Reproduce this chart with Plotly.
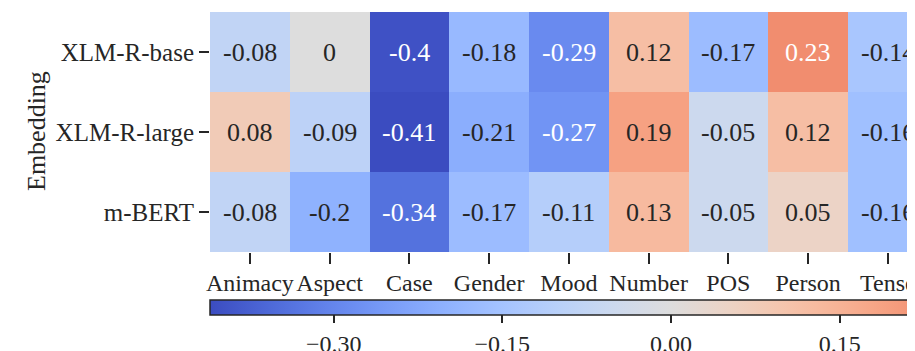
import plotly.graph_objects as go

embeddings = ["XLM-R-base", "XLM-R-large", "m-BERT"]
features = ["Animacy", "Aspect", "Case", "Gender", "Mood", "Number", "POS", "Person", "Tense"]
xlmr_base = [-0.08, 0, -0.4, -0.18, -0.29, 0.12, -0.17, 0.23, -0.14]
xlmr_large = [0.08, -0.09, -0.41, -0.21, -0.27, 0.19, -0.05, 0.12, -0.16]
mbert = [-0.08, -0.2, -0.34, -0.17, -0.11, 0.13, -0.05, 0.05, -0.16]
cbar_ticks = [-0.30, -0.15, 0.00, 0.15]

z = [xlmr_base, xlmr_large, mbert]

# Moreland coolwarm table
cw = [(59,76,192),(68,90,204),(77,104,215),(87,117,225),(98,130,234),(108,142,241),
      (119,154,247),(130,165,251),(141,176,254),(152,185,255),(163,194,255),(174,201,253),
      (184,208,249),(194,213,244),(204,217,238),(213,219,230),(221,221,221),(229,216,209),
      (236,211,197),(241,204,184),(245,196,172),(247,187,160),(247,177,148),(247,166,135),
      (244,154,123),(241,141,111),(236,127,99),(229,112,88),(222,96,77),(213,80,66),
      (203,62,56),(192,40,47),(180,4,38)]
colorscale = [[i / (len(cw) - 1), "rgb(%d,%d,%d)" % c] for i, c in enumerate(cw)]

FONT = "Liberation Serif"
DARK = "#262626"
vlim = 0.41

# figure-space geometry (page is offset by the 8px body margin)
W, H = 907, 343
L, T, B = 202, 4, 36
PW, PH = W - L, H - T - B
HM_BOTTOM = 244
CB_TOP = 292
CELL = 79.75

fig = go.Figure()
fig.add_trace(go.Heatmap(
    z=z, x=features, y=embeddings, colorscale=colorscale, zmin=-vlim, zmax=vlim,
    xgap=0, ygap=0, hoverinfo="skip",
    colorbar=dict(
        orientation="h", lenmode="pixels", len=2 * vlim * 1124, thickness=15,
        x=0, xanchor="left", xref="paper", y=(H - B - CB_TOP) / PH, yanchor="top", yref="paper",
        xpad=0, ypad=0, outlinecolor=DARK, outlinewidth=1.5,
        tickvals=cbar_ticks, tickformat=".2f", ticks="outside", ticklen=8,
        tickwidth=1.5, tickcolor=DARK,
        tickfont=dict(family=FONT, size=24, color=DARK),
    ),
))

for r, row in enumerate(z):
    for c, v in enumerate(row):
        fig.add_annotation(
            x=features[c], y=embeddings[r], text=str(v) if v != 0 else "0",
            showarrow=False,
            font=dict(family=FONT, size=26, color="white" if abs(v) > 0.22 else DARK),
        )

fig.add_annotation(
    text="Embedding", textangle=-90, xref="paper", yref="paper",
    x=(28 - L) / PW, y=(H - B - 123) / PH, xanchor="center", yanchor="middle",
    showarrow=False, font=dict(family=FONT, size=26, color=DARK),
)

fig.update_layout(
    width=W, height=H,
    margin=dict(l=L, r=0, t=T, b=B, autoexpand=False),
    paper_bgcolor="white", plot_bgcolor="white",
    xaxis=dict(range=[-0.5, -0.5 + PW / CELL], showgrid=False, zeroline=False,
               ticks="outside", ticklen=11, tickwidth=1.5, tickcolor=DARK, tickangle=0,
               ticklabelstandoff=-2,
               tickfont=dict(family=FONT, size=24, color=DARK), showline=False),
    yaxis=dict(domain=[(H - B - HM_BOTTOM) / PH, 1], autorange="reversed", showgrid=False,
               zeroline=False, ticks="outside", ticklen=10, tickwidth=1.5, tickcolor=DARK,
               tickfont=dict(family=FONT, size=25, color=DARK), showline=False),
)

fig.write_html("out.html")
